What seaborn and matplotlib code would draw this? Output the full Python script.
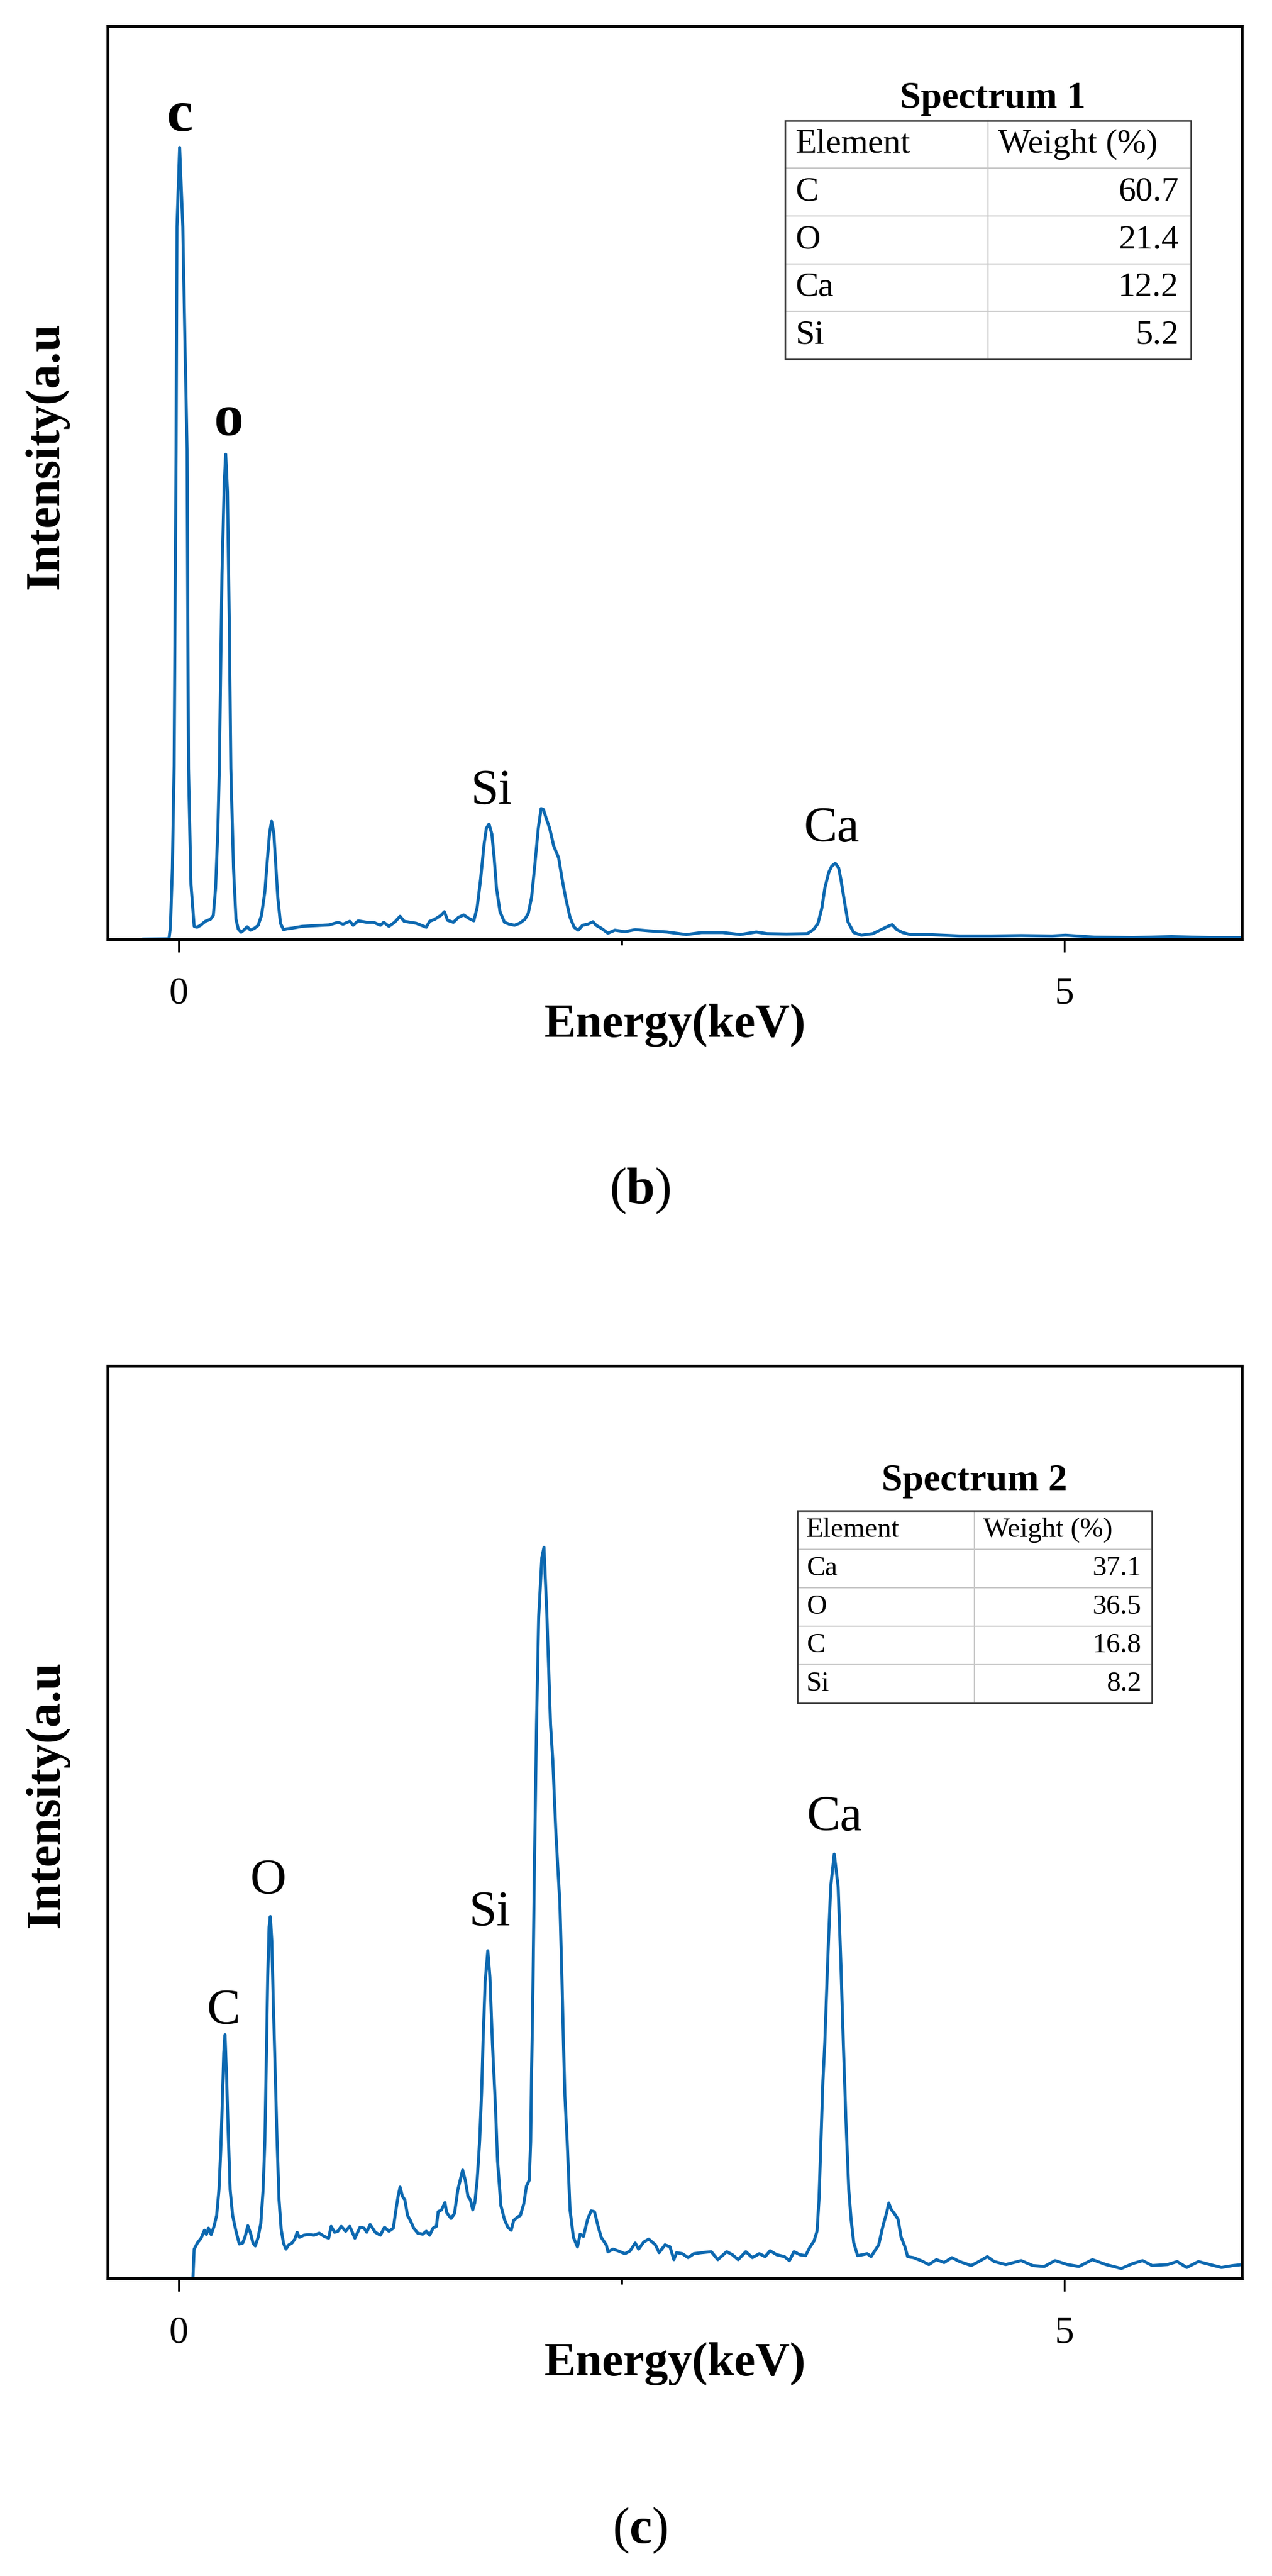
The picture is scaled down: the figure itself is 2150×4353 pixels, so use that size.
import pandas as pd
import seaborn as sns
import matplotlib.pyplot as plt
from matplotlib.patches import Rectangle
from matplotlib.ticker import FixedLocator

# EDS spectra: (energy keV, intensity a.u. scaled 0-1000)
spectrum_1 = [
    (-0.203, 0), (-0.054, 0.4), (-0.046, 13), (-0.035, 78), (-0.025, 190), (-0.014, 536),
    (-0.009, 780), (0.006, 867), (0.024, 780), (0.036, 654), (0.048, 536), (0.056, 187),
    (0.070, 60), (0.088, 14), (0.104, 13), (0.123, 15), (0.151, 19.5), (0.180, 21.7),
    (0.196, 26), (0.209, 56), (0.222, 121.5), (0.230, 187), (0.245, 400), (0.258, 500),
    (0.266, 531), (0.276, 490), (0.286, 350), (0.295, 187), (0.310, 78), (0.324, 21.7),
    (0.337, 11), (0.353, 7.6), (0.368, 9.8), (0.387, 13.5), (0.406, 9.8), (0.429, 12),
    (0.449, 15), (0.468, 26), (0.487, 52), (0.502, 89), (0.514, 117), (0.525, 129),
    (0.537, 117), (0.548, 82.5), (0.560, 45.6), (0.575, 17.4), (0.592, 10.4), (0.612, 11.3),
    (0.640, 12), (0.698, 14), (0.775, 14.8), (0.851, 15.6), (0.900, 18.4), (0.928, 16.3),
    (0.966, 19.5), (0.985, 15.2), (1.014, 20), (1.062, 18.4), (1.100, 18.4), (1.139, 15.2),
    (1.158, 18.4), (1.187, 14), (1.219, 18.4), (1.250, 25), (1.273, 19.5), (1.307, 18.4),
    (1.340, 17.4), (1.369, 15.2), (1.398, 13), (1.417, 19.5), (1.446, 21.7), (1.480, 26),
    (1.500, 30), (1.518, 20.6), (1.551, 18.4), (1.580, 23.9), (1.609, 26.5), (1.637, 22.8),
    (1.666, 20), (1.685, 34.7), (1.704, 65), (1.724, 104), (1.737, 121.5), (1.752, 126),
    (1.768, 115), (1.781, 89), (1.794, 56), (1.814, 30), (1.839, 18.4), (1.867, 16.3),
    (1.896, 15.2), (1.925, 17.4), (1.954, 21.7), (1.973, 28), (1.992, 45.6), (2.011, 82.5),
    (2.030, 121.5), (2.046, 143), (2.059, 142), (2.075, 132), (2.094, 121.5), (2.117, 102),
    (2.145, 89), (2.165, 65), (2.184, 45.6), (2.209, 23.9), (2.232, 13), (2.255, 9.8),
    (2.280, 15.2), (2.309, 16.3), (2.338, 19), (2.356, 15.2), (2.385, 12), (2.423, 6.5),
    (2.462, 9.8), (2.519, 8.2), (2.577, 10.4), (2.653, 9.1), (2.756, 7.8), (2.865, 5),
    (2.951, 7.2), (3.071, 7.2), (3.169, 5), (3.260, 7.8), (3.321, 6), (3.430, 5.6),
    (3.549, 6), (3.582, 10.4), (3.608, 17), (3.630, 34), (3.647, 56), (3.669, 73),
    (3.686, 80), (3.706, 83), (3.725, 78), (3.738, 65), (3.756, 43), (3.777, 19),
    (3.810, 7.2), (3.853, 4.3), (3.918, 6), (3.968, 10.8), (3.999, 13.7), (4.027, 15.8),
    (4.053, 10.4), (4.086, 7.2), (4.129, 5), (4.234, 5), (4.407, 3.5), (4.581, 3.5),
    (4.755, 3.9), (4.929, 3.5), (5.005, 4.3), (5.168, 2.2), (5.385, 1.7), (5.603, 2.8),
    (5.820, 1.7), (6.005, 1.7),
]

spectrum_2 = [
    (-0.206, 0), (0.081, 0), (0.088, 32), (0.107, 39), (0.127, 44), (0.146, 52.7),
    (0.157, 48), (0.169, 55), (0.184, 48), (0.200, 57), (0.215, 69), (0.228, 97),
    (0.238, 140), (0.247, 193.5), (0.255, 247), (0.262, 267), (0.272, 215), (0.280, 161),
    (0.291, 97), (0.305, 69), (0.324, 51.6), (0.343, 37.6), (0.362, 38.7), (0.376, 46),
    (0.391, 57.6), (0.406, 49.5), (0.420, 38.7), (0.433, 35.5), (0.449, 45), (0.464, 60),
    (0.477, 97), (0.487, 150), (0.495, 236.5), (0.503, 330), (0.511, 385), (0.518, 396.5),
    (0.526, 370), (0.535, 300), (0.544, 236.5), (0.556, 150), (0.567, 86), (0.579, 53.8),
    (0.592, 38.7), (0.606, 32), (0.621, 36.5), (0.640, 38.7), (0.656, 43), (0.669, 50.5),
    (0.682, 45), (0.707, 47.3), (0.736, 48), (0.765, 47.3), (0.794, 49.5), (0.822, 46),
    (0.847, 44), (0.861, 57), (0.880, 50.5), (0.899, 51.6), (0.918, 57), (0.943, 51.6),
    (0.966, 57), (0.995, 44), (1.024, 56), (1.047, 55), (1.062, 50.5), (1.081, 59),
    (1.110, 50.5), (1.139, 47.3), (1.162, 56), (1.187, 51.6), (1.212, 55), (1.225, 73),
    (1.239, 90), (1.250, 100), (1.263, 90), (1.277, 86), (1.292, 69), (1.308, 63.4),
    (1.327, 55), (1.350, 49.5), (1.378, 48.4), (1.398, 51.6), (1.417, 47.3), (1.436, 55),
    (1.455, 57), (1.465, 73), (1.484, 75), (1.503, 83), (1.513, 72), (1.538, 65.6),
    (1.557, 71), (1.576, 97), (1.589, 107.5), (1.603, 118.7), (1.618, 107.5), (1.633, 90),
    (1.647, 86), (1.660, 75), (1.672, 83), (1.685, 107.5), (1.699, 150.5), (1.710, 204),
    (1.718, 258), (1.730, 325), (1.745, 359), (1.757, 330), (1.771, 258), (1.787, 193.5),
    (1.800, 129), (1.819, 79.5), (1.839, 64.5), (1.858, 56), (1.877, 52.7), (1.891, 63.4),
    (1.910, 66.7), (1.929, 69), (1.948, 81.7), (1.963, 101), (1.979, 107.5), (1.987, 150),
    (1.992, 226), (1.998, 292), (2.008, 449), (2.020, 607), (2.032, 724), (2.050, 790),
    (2.062, 801), (2.079, 724), (2.099, 607), (2.112, 567), (2.129, 489), (2.152, 410),
    (2.163, 332), (2.172, 258), (2.180, 200), (2.193, 150), (2.209, 75), (2.228, 45),
    (2.251, 34.4), (2.266, 48.4), (2.285, 46), (2.308, 64.5), (2.328, 74), (2.347, 73),
    (2.366, 58), (2.385, 45), (2.414, 36.5), (2.423, 29), (2.452, 32), (2.481, 30),
    (2.519, 27), (2.548, 30), (2.577, 38.7), (2.596, 32), (2.625, 39.8), (2.653, 43),
    (2.691, 36.7), (2.712, 28.1), (2.745, 36.7), (2.773, 34.6), (2.795, 20.5), (2.810, 28.1),
    (2.843, 27), (2.875, 22.7), (2.908, 27), (2.951, 28.1), (3.006, 29.2), (3.043, 20.5),
    (3.093, 29.2), (3.125, 25.9), (3.158, 20.5), (3.201, 29.2), (3.238, 22.7), (3.277, 27),
    (3.310, 23.8), (3.338, 30.2), (3.375, 25.9), (3.419, 23.8), (3.447, 19.4), (3.473, 29.2),
    (3.506, 25.9), (3.538, 24.8), (3.564, 34.6), (3.586, 41), (3.603, 51.8), (3.614, 86.4),
    (3.625, 151), (3.636, 216), (3.647, 259), (3.662, 342), (3.680, 429), (3.700, 465),
    (3.722, 429), (3.738, 342), (3.751, 259), (3.766, 173), (3.782, 97), (3.795, 64.8),
    (3.810, 38.9), (3.832, 24.8), (3.860, 25.9), (3.886, 27), (3.908, 23.8), (3.929, 30.2),
    (3.951, 36.7), (3.968, 51.8), (3.979, 60.5), (3.995, 71.3), (4.008, 82.5), (4.021, 75.6),
    (4.038, 71.3), (4.060, 64.8), (4.077, 45.4), (4.099, 34.6), (4.114, 23.8), (4.147, 22.7),
    (4.190, 19.4), (4.234, 15.1), (4.277, 20.5), (4.320, 17.3), (4.364, 22.7), (4.407, 18.4),
    (4.473, 14), (4.516, 18.4), (4.564, 23.8), (4.603, 18.4), (4.668, 15.1), (4.755, 19.4),
    (4.820, 14), (4.885, 13), (4.946, 19.4), (5.016, 15.1), (5.081, 13), (5.157, 20.5),
    (5.233, 15.1), (5.320, 10.8), (5.385, 16.2), (5.440, 19.4), (5.494, 14), (5.581, 15.1),
    (5.635, 18.4), (5.689, 11.9), (5.755, 18.4), (5.820, 15.1), (5.885, 11.9), (5.950, 14),
    (6.005, 15.1),
]

# peak labels: (text, energy, baseline intensity, bold)
peaks_1 = [('c', 0.006, 885, True), ('o', 0.281, 552, True),
           ('Si', 1.765, 148, False), ('Ca', 3.686, 107, False)]
peaks_2 = [('C', 0.252, 279, False), ('O', 0.504, 422, False),
           ('Si', 1.754, 387, False), ('Ca', 3.700, 491, False)]

# composition tables
elements_1 = ['C', 'O', 'Ca', 'Si']
weights_1 = ['60.7', '21.4', '12.2', '5.2']
elements_2 = ['Ca', 'O', 'C', 'Si']
weights_2 = ['37.1', '36.5', '16.8', '8.2']

x_ticks = [0, 5]
x_tick_labels = ['0', '5']
x_minor = [2.5]

LINE_COLOR = '#0c68b0'

sns.set_style('ticks')
plt.rcParams['font.family'] = ['Liberation Serif', 'DejaVu Serif']
plt.rcParams['mathtext.fontset'] = 'custom'
plt.rcParams['mathtext.rm'] = 'Liberation Serif'
plt.rcParams['mathtext.bf'] = 'Liberation Serif:bold'
plt.rcParams['text.color'] = 'black'
plt.rcParams['axes.labelcolor'] = 'black'
plt.rcParams['xtick.color'] = 'black'
plt.rcParams['xtick.labelcolor'] = 'black'

W, H = 2150, 4353
fig = plt.figure(figsize=(W / 100, H / 100), dpi=100)


def px_rect(left, top, right, bottom):
    return [left / W, 1 - bottom / H, (right - left) / W, (bottom - top) / H]


def add_table(ax, title, elements, weights, bbox, title_xy, fontsize, title_size):
    rows = [[e, w] for e, w in zip(elements, weights)]
    tbl = ax.table(cellText=rows, colLabels=['Element', 'Weight (%)'],
                   cellLoc='left', colLoc='left', bbox=bbox)
    tbl.auto_set_font_size(False)
    tbl.set_fontsize(fontsize)
    for (r, c), cell in tbl.get_celld().items():
        cell.set_edgecolor('#c8c8c8')
        cell.set_linewidth(1.5)
        cell.PAD = 0.05
        cell.get_text().set_color('black')
        if r > 0 and c == 1:
            cell._loc = 'right'
            cell.PAD = 0.06
            cell.get_text().set_ha('right')
    ax.add_patch(Rectangle((bbox[0], bbox[1]), bbox[2], bbox[3], transform=ax.transAxes,
                           fill=False, edgecolor='#333333', linewidth=1.8,
                           zorder=10, clip_on=False))
    ax.text(title_xy[0], title_xy[1], title, transform=ax.transAxes, ha='center',
            va='baseline', fontsize=title_size, fontweight='bold')


def draw_panel(ax, data, peaks):
    df = pd.DataFrame(data, columns=['energy', 'intensity'])
    sns.lineplot(data=df, x='energy', y='intensity', ax=ax, color=LINE_COLOR,
                 linewidth=3.7, estimator=None, sort=False)
    ax.set_xlim(-0.4, 6.0)
    ax.set_ylim(0, 1000)
    ax.set_yticks([])
    ax.set_xticks(x_ticks)
    ax.set_xticklabels(x_tick_labels)
    ax.xaxis.set_minor_locator(FixedLocator(x_minor))
    ax.tick_params(axis='x', which='major', direction='out', length=15.8, width=2.2,
                   pad=29.5, labelsize=47, color='black', labelcolor='black')
    ax.tick_params(axis='x', which='minor', direction='out', length=7.2, width=2.2,
                   color='black')
    ax.set_xlabel('')
    ax.set_ylabel('')
    for s in ax.spines.values():
        s.set_visible(True)
        s.set_linewidth(3.5)
        s.set_color('black')
    ax.text(0.5, -0.1065, 'Energy(keV)', transform=ax.transAxes, ha='center',
            va='baseline', fontsize=58, fontweight='bold')
    for label, x, y, bold in peaks:
        ax.text(x, y, label, ha='center', va='baseline',
                fontsize=72 if bold else 61, fontweight='bold' if bold else 'normal')


ax1 = fig.add_axes(px_rect(182, 44, 2099, 1587))
draw_panel(ax1, spectrum_1, peaks_1)
add_table(ax1, 'Spectrum 1', elements_1, weights_1,
          [0.5973, 0.6351, 0.3578, 0.2615], (0.7804, 0.9106), 42, 46)

ax2 = fig.add_axes(px_rect(182, 2308, 2099, 3850))
draw_panel(ax2, spectrum_2, peaks_2)
add_table(ax2, 'Spectrum 2', elements_2, weights_2,
          [0.6082, 0.6304, 0.3125, 0.2108], (0.7642, 0.8638), 34, 46)

# y labels and panel letters
fig.text(79 / W, 1 - 770 / H, 'Intensity(a.u', rotation=90, ha='center', va='center',
         fontsize=60, fontweight='bold')
fig.text(80 / W, 1 - 3032 / H, 'Intensity(a.u', rotation=90, ha='center', va='center',
         fontsize=60, fontweight='bold')
fig.text(1082 / W, 1 - 2012 / H, r'($\mathbf{b}$)', ha='center', va='center', fontsize=62)
fig.text(1082 / W, 1 - 4276 / H, r'($\mathbf{c}$)', ha='center', va='center', fontsize=62)

fig.savefig('out.png', dpi=100, facecolor='white')
